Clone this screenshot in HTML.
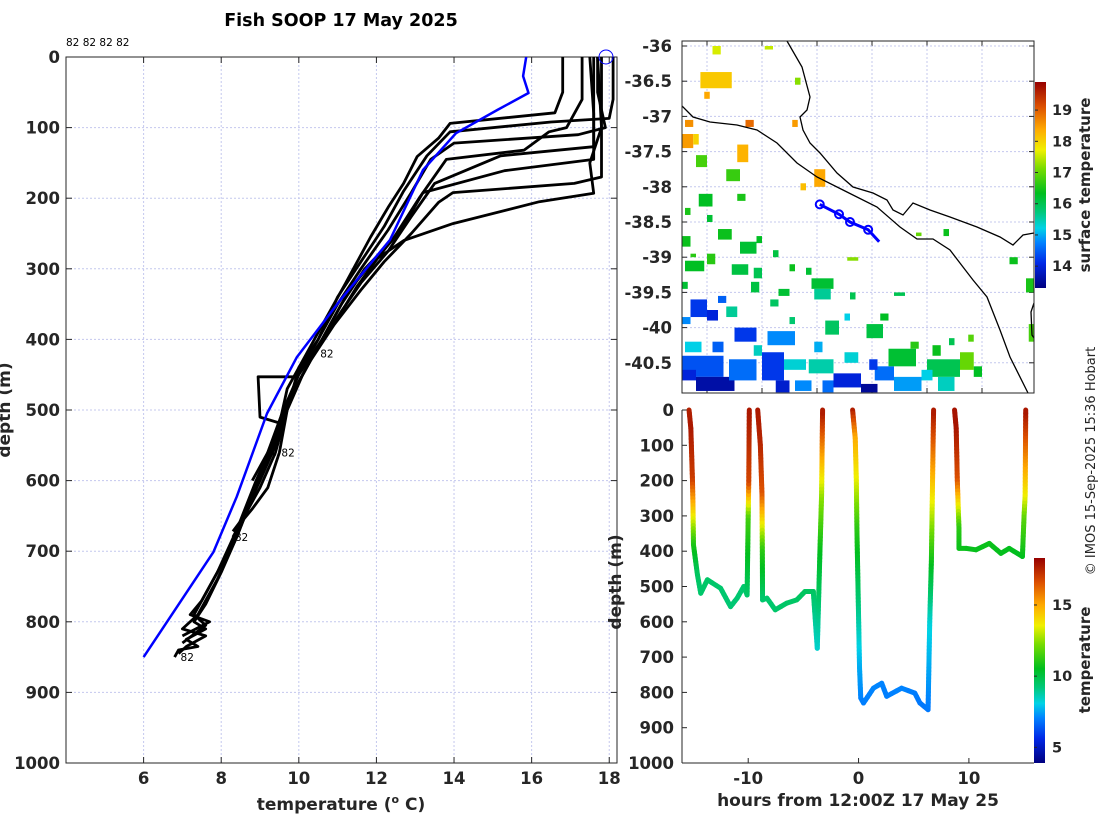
<!DOCTYPE html>
<html><head><meta charset="utf-8"><style>
html,body{margin:0;padding:0;background:#fff;}
svg{display:block;font-family:"DejaVu Sans","Liberation Sans",sans-serif;}
.tk{font-size:16.5px;font-weight:bold;fill:#262626;}
.lab{font-size:17px;font-weight:bold;fill:#262626;}
</style></head><body>
<svg id="fig" width="1100" height="820" viewBox="0 0 1100 820" xmlns="http://www.w3.org/2000/svg">
<defs>
<linearGradient id="jet" x1="0" y1="1" x2="0" y2="0">
<stop offset="0" stop-color="rgb(0,0,127)"/><stop offset="0.12" stop-color="rgb(0,40,230)"/><stop offset="0.22" stop-color="rgb(0,130,255)"/><stop offset="0.29" stop-color="rgb(0,210,230)"/><stop offset="0.37" stop-color="rgb(0,200,120)"/><stop offset="0.46" stop-color="rgb(0,190,30)"/><stop offset="0.58" stop-color="rgb(120,220,0)"/><stop offset="0.67" stop-color="rgb(240,240,0)"/><stop offset="0.77" stop-color="rgb(255,170,0)"/><stop offset="0.88" stop-color="rgb(220,80,0)"/><stop offset="1" stop-color="rgb(150,0,0)"/>
</linearGradient>
<clipPath id="mapclip"><rect x="682" y="41" width="352" height="352"/></clipPath>
<clipPath id="profclip"><rect x="66" y="57" width="551" height="706"/></clipPath>
</defs>
<g id="root"></g>
</svg>
<script>
// ---------- Profile plot data ----------
const profileTemps = [
 [16.8,16.8,16.6,13.9,13.6,13.05,12.7,12.3,11.85,11.2,10.6,10.2,9.7,9.5,9.3,9.4],
 [18.1,18.1,18.0,16.5,13.9,13.3,12.7,12.2,11.6,11.0,10.5,10.0,9.7,9.5,9.2,8.8,8.5,8.3],
 [17.7,17.7,17.9,17.2,14.0,13.4,12.9,12.3,11.6,11.0,10.4,9.9,8.95,9.0,9.6,9.4,9.0,8.6,8.3],
 [17.3,17.3,16.9,16.45,15.8,13.8,13.1,12.4,11.7,11.1,10.6,10.0,9.6,9.2,8.9,8.4,8.0,7.6,7.3,7.6,7.1,7.4,6.9,6.8],
 [17.6,17.6,17.6,15.2,13.5,12.9,12.3,11.6,11.1,10.5,10.1,9.7,9.4,9.0,8.5,8.0,7.5,7.2,7.7,7.0],
 [17.5,17.6,17.6,15.3,13.2,12.7,12.1,11.5,11.0,10.4,9.9,9.4,8.9,8.4,7.9,7.3,7.6,7.0],
 [17.7,17.8,17.8,17.1,13.97,13.6,12.9,12.2,11.6,10.9,10.3,9.8,9.5,9.2,8.8],
 [17.8,17.8,17.5,17.6,16.2,13.97,12.7,11.9,11.3,10.9,10.4,9.8,9.4,8.9,8.4,7.9,7.4,7.0,7.6,7.1,6.9]
];
const profileDepths = [
 [0,50,79,94,115,141,179,213,255,321,380,420,470,520,560,565],
 [0,60,87,92,106,140,190,240,290,340,400,440,500,560,610,640,660,680],
 [0,50,100,110,122,145,192,245,300,350,410,453,453,510,520,560,610,650,672],
 [0,60,100,106,132,145,200,260,300,350,400,450,500,560,610,680,730,775,800,810,825,835,840,850],
 [0,80,127,140,179,226,275,320,360,410,450,500,550,600,660,720,770,790,800,820],
 [0,80,145,161,192,239,280,325,370,420,470,540,600,670,730,790,805,830],
 [0,100,170,179,192,206,250,290,330,380,430,480,520,560,600],
 [0,100,150,193,205,236,260,290,330,370,420,480,540,610,680,740,790,810,820,835,845]
];
const climTemps = [15.86,15.78,15.92,15.12,14.05,13.2,12.35,11.06,9.95,9.18,8.4,7.8,6.0];
const climDepths = [0,27,51,75,108,160,259,345,425,505,623,701,850];
const tempTicks = [6,8,10,12,14,16,18];
const depthTicks = [0,100,200,300,400,500,600,700,800,900,1000];
const endLabelTemps = [6.9,8.3,9.5,10.5];
const endLabelDepths = [850,680,560,420];

// ---------- Map data ----------
const latTicks = [-36,-36.5,-37,-37.5,-38,-38.5,-39,-39.5,-40,-40.5];
const lonTicks = [138,139,140,141,142,143];
const sstTicks = [14,15,16,17,18,19];
const trackLon = [140.05,140.40,140.60,140.93];
const trackLat = [-38.25,-38.39,-38.50,-38.61];
// blobs: lon1, lat1, lon2, lat2, temp
const sstBlobs = [
 [137.88,-36.37,138.45,-36.6,18.1],[138.1,-36.0,138.25,-36.12,17.6],[137.95,-36.65,138.05,-36.75,18.4],
 [137.55,-37.25,137.75,-37.45,18.5],[137.75,-37.25,137.85,-37.4,18.0],[138.55,-37.4,138.75,-37.65,18.3],
 [137.8,-37.55,138.0,-37.72,16.8],[138.35,-37.75,138.6,-37.92,16.7],[139.95,-37.75,140.15,-38.0,18.4],
 [139.7,-37.95,139.8,-38.05,18.2],[137.85,-38.1,138.1,-38.28,16.3],[138.55,-38.1,138.7,-38.2,16.5],
 [137.55,-38.7,137.7,-38.85,16.4],[138.2,-38.6,138.45,-38.75,16.4],[138.6,-38.78,138.9,-38.95,16.2],
 [137.6,-39.05,137.95,-39.2,16.3],[138.0,-38.95,138.15,-39.1,16.6],[138.45,-39.1,138.75,-39.25,16.1],
 [138.85,-39.15,139.0,-39.3,16.0],[139.9,-39.3,140.3,-39.45,16.2],[139.95,-39.45,140.25,-39.6,15.6],
 [139.3,-39.45,139.5,-39.55,16.2],[140.55,-39.0,140.75,-39.05,17.2],[141.4,-39.5,141.6,-39.55,16.0],
 [137.7,-39.6,138.0,-39.85,14.2],[138.0,-39.75,138.2,-39.9,14.0],[138.35,-39.7,138.55,-39.85,15.6],
 [139.5,-39.85,139.6,-39.95,15.8],[140.15,-39.9,140.4,-40.1,15.9],[140.9,-39.95,141.2,-40.15,16.1],
 [137.6,-40.2,137.9,-40.35,15.2],[138.5,-40.0,138.9,-40.2,14.2],[139.1,-40.05,139.6,-40.25,14.8],
 [137.55,-40.4,138.3,-40.7,14.4],[137.8,-40.7,138.5,-40.9,13.6],[138.4,-40.45,138.9,-40.75,14.6],
 [139.0,-40.35,139.4,-40.75,14.2],[139.4,-40.45,139.8,-40.6,15.3],[139.85,-40.45,140.3,-40.65,15.5],
 [140.3,-40.65,140.8,-40.85,14.0],[140.8,-40.8,141.1,-40.92,13.5],[141.05,-40.55,141.4,-40.75,14.6],
 [141.4,-40.7,141.9,-40.9,14.9],[141.3,-40.3,141.8,-40.55,16.2],[142.0,-40.45,142.6,-40.7,16.0],
 [142.6,-40.35,142.85,-40.6,17.0],[142.85,-40.55,143.0,-40.7,16.3],[142.2,-40.7,142.5,-40.9,15.4],
 [139.6,-40.75,139.9,-40.9,14.8],[143.8,-39.3,143.95,-39.5,16.5],[143.5,-39.0,143.65,-39.1,16.4],
 [142.3,-38.6,142.4,-38.7,16.4],[141.8,-38.65,141.9,-38.7,17.0],[143.85,-39.95,143.95,-40.2,16.8],
 [137.6,-38.3,137.7,-38.4,16.5],[138.0,-38.4,138.1,-38.5,16.2],[137.7,-38.95,137.8,-39.0,16.6],
 [138.9,-38.7,139.0,-38.8,16.3],[139.2,-38.9,139.3,-39.0,16.1],[139.5,-39.1,139.6,-39.2,16.4],
 [139.8,-39.15,139.9,-39.25,16.2],[140.6,-39.5,140.7,-39.6,16.0],[137.55,-39.35,137.65,-39.45,16.2],
 [138.8,-39.35,138.95,-39.5,16.1],[139.15,-39.6,139.3,-39.7,15.9],[140.5,-39.8,140.6,-39.9,15.2],
 [141.15,-39.8,141.3,-39.9,16.3],[141.7,-40.2,141.85,-40.3,16.6],[142.4,-40.15,142.5,-40.25,16.0],
 [137.55,-40.6,137.8,-40.75,14.0],[138.1,-40.2,138.3,-40.35,14.5],[138.85,-40.25,139.0,-40.4,15.4],
 [139.95,-40.2,140.1,-40.35,15.0],[140.5,-40.35,140.75,-40.5,15.3],[140.95,-40.45,141.1,-40.6,14.2],
 [141.9,-40.6,142.1,-40.75,15.2],[142.1,-40.25,142.25,-40.4,16.4],[139.25,-40.75,139.5,-40.92,13.9],
 [140.1,-40.75,140.3,-40.92,14.6],[137.55,-39.85,137.7,-39.95,14.8],[138.2,-39.55,138.35,-39.65,14.5],
 [142.75,-40.1,142.85,-40.2,16.9],[137.6,-37.05,137.75,-37.15,18.6],[138.7,-37.05,138.85,-37.15,18.9],
 [139.55,-37.05,139.65,-37.15,18.5],[139.6,-36.45,139.7,-36.55,17.2],[139.05,-36.0,139.2,-36.05,17.5]
];

// ---------- Section data ----------
const secHours = [
 [-15.36,-15.2,-15.05,-15.0,-14.96,-14.6,-14.3,-13.7,-12.5,-11.6,-11.0,-10.4,-10.1,-10.0,-9.95,-9.9],
 [-9.14,-8.9,-8.75,-8.72,-8.7,-8.3,-7.55,-6.5,-5.6,-4.85,-4.1,-3.74,-3.5,-3.35,-3.26],
 [-0.54,-0.3,-0.2,-0.15,0.09,0.2,0.45,1.35,2.1,2.55,3.9,5.1,5.56,6.3,6.45,6.6,6.8],
 [8.7,8.85,8.95,9.1,9.1,9.75,10.65,11.85,12.9,13.65,14.85,15.0,15.1,15.15]
];
const secDepths = [
 [0,52,200,280,382,467,519,481,505,557,533,500,524,300,200,0],
 [0,99,241,400,538,533,566,547,538,514,514,675,400,241,0],
 [0,80,200,335,731,816,830,788,774,811,788,802,830,849,600,429,0],
 [0,52,200,335,392,392,396,378,406,392,415,300,241,0]
];
const secTemps = [
 [17.6,17.8,17.0,14.5,11.0,9.6,9.4,9.5,9.4,9.3,9.3,9.4,9.4,11.5,16.8,17.8],
 [17.8,17.5,16.5,11.2,9.4,9.4,9.4,9.5,9.5,9.6,9.6,8.3,10.5,12.5,17.8],
 [17.8,15.0,13.5,11.2,7.6,7.1,7.0,7.1,7.1,7.0,7.1,7.0,6.9,6.9,8.2,10.6,17.8],
 [17.9,17.9,16.6,11.2,10.7,10.7,10.6,10.7,10.6,10.6,10.5,11.8,13.5,17.9]
];
const hourTicks = [-10,0,10];
const tempCbTicks = [5,10,15];

// ---------- helpers ----------
const NS="http://www.w3.org/2000/svg";
const root=document.getElementById('root');
function mk(tag,attrs,parent){const e=document.createElementNS(NS,tag);for(const k in attrs)e.setAttribute(k,attrs[k]);(parent||root).appendChild(e);return e;}
function txt(s,attrs,parent){const e=mk('text',attrs,parent);e.textContent=s;return e;}
const cmapStops=[[0,[0,0,127]],[0.12,[0,40,230]],[0.22,[0,130,255]],[0.29,[0,210,230]],[0.37,[0,200,120]],[0.46,[0,190,30]],[0.58,[120,220,0]],[0.67,[240,240,0]],[0.77,[255,170,0]],[0.88,[220,80,0]],[1,[150,0,0]]];
function cmap(f){f=Math.max(0,Math.min(1,f));for(let i=1;i<cmapStops.length;i++){if(f<=cmapStops[i][0]){const a=cmapStops[i-1],b=cmapStops[i];const t=(f-a[0])/(b[0]-a[0]);const c=a[1].map((v,j)=>Math.round(v+(b[1][j]-v)*t));return 'rgb('+c.join(',')+')';}}return 'rgb(150,0,0)';}

// ---------- Title ----------
const title=txt('Fish SOOP 17 May 2025',{x:341,y:26,'text-anchor':'middle','font-size':'17.5px','font-weight':'bold',fill:'#000'});



// ---------- Profile plot ----------
const pL=66,pR=617,pT=57,pB=763,tMin=4,tMax=18.2;
const xT=t=>pL+(t-tMin)/(tMax-tMin)*(pR-pL);
const yD=d=>pT+d/1000*(pB-pT);
const gP=mk('g',{});


tempTicks.forEach(t=>{
 const g=mk('line',{x1:xT(t),x2:xT(t),y1:pT,y2:pB,stroke:'#c4c8ee','stroke-width':1,'stroke-dasharray':'2,2'},gP);
 
 
 mk('line',{x1:xT(t),x2:xT(t),y1:pB,y2:pB-6,stroke:'#262626'},gP);
 mk('line',{x1:xT(t),x2:xT(t),y1:pT,y2:pT+6,stroke:'#262626'},gP);
 const l=txt(String(t),{x:xT(t),y:pB+21,'text-anchor':'middle',class:'tk'},gP);
 
 
});
depthTicks.forEach(d=>{
 if(d>0&&d<1000){const g=mk('line',{x1:pL,x2:pR,y1:yD(d),y2:yD(d),stroke:'#c4c8ee','stroke-width':1,'stroke-dasharray':'2,2'},gP);
 
 }
 mk('line',{x1:pL,x2:pL+6,y1:yD(d),y2:yD(d),stroke:'#262626'},gP);
 mk('line',{x1:pR,x2:pR-6,y1:yD(d),y2:yD(d),stroke:'#262626'},gP);
 const l=txt(String(d),{x:pL-6,y:yD(d)+6,'text-anchor':'end',class:'tk'},gP);
 
 
});
const pbox=mk('rect',{x:pL,y:pT,width:pR-pL,height:pB-pT,fill:'none',stroke:'#262626','stroke-width':1},gP);


const gLines=mk('g',{'clip-path':'url(#profclip)'},gP);
profileTemps.forEach((ts,i)=>{
 const pts=ts.map((t,j)=>xT(t).toFixed(1)+','+yD(profileDepths[i][j]).toFixed(1)).join(' ');
 const pl=mk('polyline',{points:pts,fill:'none',stroke:'#000','stroke-width':2.8,'stroke-linejoin':'round'},gLines);
 
 
});
const cl=mk('polyline',{points:climTemps.map((t,j)=>xT(t).toFixed(1)+','+yD(climDepths[j]).toFixed(1)).join(' '),fill:'none',stroke:'#0000ff','stroke-width':2.5,'stroke-linejoin':'round'},gLines);


const sc=mk('circle',{cx:606,cy:57,r:7,fill:'none',stroke:'#0000ff','stroke-width':1},gP);


endLabelTemps.forEach((t,i)=>{
 const l=txt('82',{x:xT(t)+2,y:yD(endLabelDepths[i])+4,'font-size':'10.5px',fill:'#000'},gP);
 
 
});
const tl=txt('82 82 82 82',{x:66,y:46,'font-size':'10.5px',fill:'#000'},gP);


const xl=txt('',{x:341,y:810,'text-anchor':'middle',class:'lab'},gP);
xl.innerHTML='temperature (<tspan font-size="11px" dy="-7">o</tspan><tspan dy="7"> C)</tspan>';


const yl=txt('depth (m)',{x:0,y:0,'text-anchor':'middle',class:'lab',transform:'translate(10,410) rotate(-90)'},gP);



// ---------- Map ----------
const mL=682,mR=1034,mT=41,mB=393;
const xLon=l=>707+(l-138)*55;
const yLat=l=>46+(-36-l)*70.4;
const gM=mk('g',{});


lonTicks.forEach(l=>{
 mk('line',{x1:xLon(l),x2:xLon(l),y1:mT,y2:mB,stroke:'#c4c8ee','stroke-dasharray':'2,2'},gM);
 mk('line',{x1:xLon(l),x2:xLon(l),y1:mB,y2:mB-5,stroke:'#262626'},gM);
 mk('line',{x1:xLon(l),x2:xLon(l),y1:mT,y2:mT+5,stroke:'#262626'},gM);
 const t=txt(String(l),{x:xLon(l),y:mB+23,'text-anchor':'middle',class:'tk'},gM);
 
 
});
latTicks.forEach(l=>{
 mk('line',{x1:mL,x2:mR,y1:yLat(l),y2:yLat(l),stroke:'#c4c8ee','stroke-dasharray':'2,2'},gM);
 mk('line',{x1:mL,x2:mL+5,y1:yLat(l),y2:yLat(l),stroke:'#262626'},gM);
 mk('line',{x1:mR,x2:mR-5,y1:yLat(l),y2:yLat(l),stroke:'#262626'},gM);
 const t=txt(String(l),{x:mL-10,y:yLat(l)+6,'text-anchor':'end',class:'tk'},gM);
 
 
});
const gS=mk('g',{'clip-path':'url(#mapclip)'},gM);
const sMin=13.3,sMax=19.9;
sstBlobs.forEach(b=>{
 const r=mk('rect',{x:xLon(b[0]),y:yLat(b[1]),width:(b[2]-b[0])*55,height:(b[1]-b[3])*70.4,fill:cmap((b[4]-sMin)/(sMax-sMin))},gS);
 
 
});
const coast1=mk('polyline',{points:'787,41 802,67 810,97 807,110 800,117 803,130 810,143 820,153 837,173 853,187 873,193 887,200 893,210 903,215 913,203 930,210 950,217 977,227 1000,237 1013,245 1023,235 1034,233',fill:'none',stroke:'#000','stroke-width':1.3},gS);


const coast2=mk('polyline',{points:'682,106 693,117 710,122 737,125 757,130 777,143 797,163 817,177 843,190 877,207 900,227 917,239 933,239 950,250 963,267 973,280 987,297 1000,330 1010,357 1028,393',fill:'none',stroke:'#000','stroke-width':1.3},gS);


mk('polyline',{points:'1034,303 1031,312 1032,335 1034,338',fill:'none',stroke:'#000','stroke-width':1.3},gS);
const trk=mk('polyline',{points:trackLon.map((l,i)=>xLon(l)+','+yLat(trackLat[i])).join(' ')+' '+(xLon(trackLon[3])+11)+','+(yLat(trackLat[3])+12),fill:'none',stroke:'#0000ff','stroke-width':3},gS);


trackLon.forEach((l,i)=>{
 const c=mk('circle',{cx:xLon(l),cy:yLat(trackLat[i]),r:4,fill:'none',stroke:'#0000ff','stroke-width':2},gS);
 
 
});
mk('rect',{x:mL,y:mT,width:mR-mL,height:mB-mT,fill:'none',stroke:'#262626'},gM);
const cb1=mk('rect',{x:1035,y:82,width:11,height:206,fill:'url(#jet)'},gM);


sstTicks.forEach(t=>{
 const y=288-(t-sMin)/(sMax-sMin)*206;
 mk('line',{x1:1035,x2:1038,y1:y,y2:y,stroke:'#262626'},gM);
 const l=txt(String(t),{x:1052,y:y+5,'font-size':'14.5px','font-weight':'bold',fill:'#262626'},gM);
 
 
});
const sl=txt('surface temperature',{x:0,y:0,'text-anchor':'middle','font-size':'15px','font-weight':'bold',fill:'#262626',transform:'translate(1090,185) rotate(-90)'},gM);



// ---------- Section plot ----------
const sL=682,sR=1034,sT=410,sB=763,hMin=-16.0,hMax=15.9;
const xH=h=>sL+(h-hMin)/(hMax-hMin)*(sR-sL);
const ySD=d=>sT+d/1000*(sB-sT);
const gX=mk('g',{});


mk('rect',{x:sL-60,y:402,width:sR-sL+60,height:sB-402+2,fill:'#fff'},gX);
depthTicks.forEach(d=>{
 mk('line',{x1:sL,x2:sL+5,y1:ySD(d),y2:ySD(d),stroke:'#262626'},gX);
 const l=txt(String(d),{x:sL-8,y:ySD(d)+6,'text-anchor':'end',class:'tk'},gX);
 
 
});
hourTicks.forEach(h=>{
 mk('line',{x1:xH(h),x2:xH(h),y1:sB,y2:sB-5,stroke:'#262626'},gX);
 const l=txt(String(h),{x:xH(h),y:sB+21,'text-anchor':'middle',class:'tk'},gX);
 
 
});
mk('line',{x1:sL,x2:sL,y1:sT,y2:sB,stroke:'#262626'},gX);
mk('line',{x1:sL,x2:sR,y1:sB,y2:sB,stroke:'#262626'},gX);
const cMin=3.9,cMax=18.3;
secHours.forEach((hs,i)=>{
 const g=mk('g',{},gX);
 
 
 for(let j=0;j<hs.length-1;j++){
  const n=Math.max(1,Math.ceil(Math.abs(secDepths[i][j+1]-secDepths[i][j])/10));
  for(let k=0;k<n;k++){
   const a=k/n,b=(k+1)/n;
   const h1=hs[j]+(hs[j+1]-hs[j])*a,h2=hs[j]+(hs[j+1]-hs[j])*b;
   const d1=secDepths[i][j]+(secDepths[i][j+1]-secDepths[i][j])*a,d2=secDepths[i][j]+(secDepths[i][j+1]-secDepths[i][j])*b;
   const tm=secTemps[i][j]+(secTemps[i][j+1]-secTemps[i][j])*(a+b)/2;
   mk('line',{x1:xH(h1),y1:ySD(d1),x2:xH(h2),y2:ySD(d2),stroke:cmap((tm-cMin)/(cMax-cMin)),'stroke-width':5,'stroke-linecap':'round'},g);
  }
 }
});
const cb2=mk('rect',{x:1034,y:558,width:11,height:205,fill:'url(#jet)'},gX);


tempCbTicks.forEach(t=>{
 const y=763-(t-cMin)/(cMax-cMin)*205;
 mk('line',{x1:1034,x2:1037,y1:y,y2:y,stroke:'#262626'},gX);
 const l=txt(String(t),{x:1052,y:y+5,'font-size':'14.5px','font-weight':'bold',fill:'#262626'},gX);
 
 
});
const tl2=txt('temperature',{x:0,y:0,'text-anchor':'middle','font-size':'15px','font-weight':'bold',fill:'#262626',transform:'translate(1090,660) rotate(-90)'},gX);


const sxl=txt('hours from 12:00Z 17 May 25',{x:858,y:806,'text-anchor':'middle',class:'lab'},gX);


const syl=txt('depth (m)',{x:0,y:0,'text-anchor':'middle',class:'lab',transform:'translate(621,582) rotate(-90)'},gX);


const cp=txt('© IMOS 15-Sep-2025 15:36 Hobart',{x:0,y:0,'text-anchor':'middle','font-size':'13px',fill:'#262626',transform:'translate(1095,461) rotate(-90)'});


</script>
</body></html>
